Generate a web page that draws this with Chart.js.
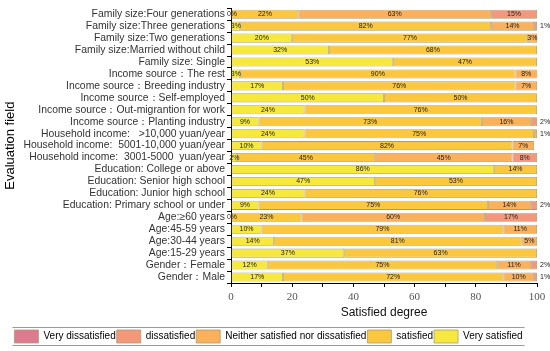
<!DOCTYPE html>
<html>
<head>
<meta charset="utf-8">
<script src="https://cdn.jsdelivr.net/npm/chart.js@4/dist/chart.umd.min.js"></script>
<style>
html,body{margin:0;padding:0;background:#fff;}
#wrap{width:550px;height:351px;}
</style>
</head>
<body>
<div id="wrap"><canvas id="c" width="550" height="351"></canvas></div>
<script>
const categories = [
  "Family size:Four generations",
  "Family size:Three generations",
  "Family size:Two generations",
  "Family size:Married without child",
  "Family size: Single",
  "Income source：The rest",
  "Income source：Breeding industry",
  "Income source：Self-employed",
  "Income source：Out-migrantion for work",
  "Income source：Planting industry",
  "Household income:   >10,000 yuan/year",
  "Household income:  5001-10,000 yuan/year",
  "Household income:  3001-5000  yuan/year",
  "Education: College or above",
  "Education: Senior high school",
  "Education: Junior high school",
  "Education: Primary school or under",
  "Age:≥60 years",
  "Age:45-59 years",
  "Age:30-44 years",
  "Age:15-29 years",
  "Gender：Female",
  "Gender：Male"
];
const verySatisfied   = [0, 3, 20, 32, 53, 3, 17, 50, 24, 9, 24, 10, 2, 86, 47, 24, 9, 0, 10, 14, 37, 12, 17];
const satisfied       = [22, 82, 77, 68, 47, 90, 76, 50, 76, 73, 75, 82, 45, 14, 53, 76, 75, 23, 79, 81, 63, 75, 72];
const neither         = [63, 14, 3, 0, 0, 8, 7, 0, 0, 16, 1, 7, 45, 0, 0, 0, 14, 60, 11, 5, 0, 11, 10];
const dissatisfied    = [15, 1, 0, 0, 0, 0, 0, 0, 0, 2, 0, 0, 8, 0, 0, 0, 2, 17, 0, 0, 0, 2, 1];
const veryDissatisfied= [0, 0, 0, 0, 0, 0, 0, 0, 0, 0, 0, 0, 0, 0, 0, 0, 0, 0, 0, 0, 0, 0, 0];
const xTicks = [0, 20, 40, 60, 80, 100];

const series = [
  {label: "Very satisfied", data: verySatisfied, color: "#f6e83c"},
  {label: "satisfied", data: satisfied, color: "#fbc73f"},
  {label: "Neither satisfied nor dissatisfied", data: neither, color: "#fbb15b"},
  {label: "dissatisfied", data: dissatisfied, color: "#f4987b"},
  {label: "Very dissatisfied", data: veryDissatisfied, color: "#dd7a90"}
];

const labelPlugin = {
  id: 'segLabels',
  afterDatasetsDraw(chart) {
    const ctx = chart.ctx;
    ctx.save();
    ctx.font = '7px "Liberation Sans", Arial, sans-serif';
    ctx.fillStyle = '#222';
    ctx.textBaseline = 'middle';
    const n = chart.data.labels.length;
    for (let j = 0; j < n; j++) {
      let last = -1;
      chart.data.datasets.forEach((ds, i) => { if (ds.data[j] > 0) last = i; });
      chart.data.datasets.forEach((ds, i) => {
        const v = ds.data[j];
        const el = chart.getDatasetMeta(i).data[j];
        const p = el.getProps(['x', 'y', 'base'], true);
        const txt = v + '%';
        if (v === 0) {
          if (i === 0) { ctx.textAlign = 'center'; ctx.fillText(txt, p.base + 1, p.y); }
          return;
        }
        if (i === last && v <= 2 && i > 0) {
          ctx.textAlign = 'left';
          ctx.fillText(txt, chart.chartArea.right + 3, p.y);
          return;
        }
        ctx.textAlign = 'center';
        ctx.fillText(txt, (Math.min(p.x, chart.chartArea.right) + p.base) / 2, p.y);
      });
    }
    ctx.restore();
  }
};

const legendFrame = {
  id: 'legendFrame',
  afterInit(chart) {
    const lg = chart.legend;
    if (!lg) return;
    const fit = lg.fit.bind(lg);
    lg.fit = function () { fit(); this.height = 18; this.bottom = this.top + 18; };
  },
  afterDraw(chart) {
    const lg = chart.legend;
    if (!lg || !lg.legendHitBoxes || !lg.legendHitBoxes.length) return;
    const hb = lg.legendHitBoxes;
    let l = Infinity, r = -Infinity, t = Infinity, b = -Infinity;
    hb.forEach(h => { l = Math.min(l, h.left); r = Math.max(r, h.left + h.width); t = Math.min(t, h.top); b = Math.max(b, h.top + h.height); });
    const ctx = chart.ctx;
    ctx.save();
    ctx.strokeStyle = '#9a9a9a';
    ctx.lineWidth = 1;
    ctx.beginPath();
    ctx.moveTo(l - 2, Math.round(t) - 2.5); ctx.lineTo(r + 2, Math.round(t) - 2.5);
    ctx.moveTo(l - 2, Math.round(b) + 2.5); ctx.lineTo(r + 2, Math.round(b) + 2.5);
    ctx.stroke();
    ctx.restore();
  }
};

new Chart(document.getElementById('c'), {
  type: 'bar',
  data: {
    labels: categories,
    datasets: series.map(s => ({
      label: s.label,
      data: s.data,
      backgroundColor: s.color,
      borderColor: '#a99c70',
      borderWidth: 0.8,
      borderSkipped: false,
      barPercentage: 0.76,
      categoryPercentage: 1.0
    }))
  },
  options: {
    indexAxis: 'y',
    responsive: false,
    animation: false,
    layout: {padding: {top: 3, right: 13, bottom: 4, left: 0}},
    plugins: {
      legend: {
        position: 'bottom',
        reverse: true,
        labels: {
          boxWidth: 24, boxHeight: 13, padding: 1,
          color: '#000',
          font: {family: '"Liberation Sans", Arial, sans-serif', size: 10}
        }
      },
      tooltip: {enabled: false}
    },
    scales: {
      x: {
        stacked: true,
        min: 0, max: 100,
        ticks: {
          stepSize: 10,
          autoSkip: false,
          color: '#555',
          font: {family: '"Liberation Serif", "Times New Roman", serif', size: 11},
          padding: 4,
          callback: (v) => xTicks.includes(v) ? String(v) : ''
        },
        grid: {drawOnChartArea: false, color: '#000', tickLength: 4},
        border: {color: '#000', width: 1},
        title: {display: true, text: 'Satisfied degree', color: '#111',
                font: {family: '"Liberation Sans", Arial, sans-serif', size: 12}, padding: {top: 2, bottom: 9}},
        afterFit: (s) => { s.height = 46; }
      },
      y: {
        stacked: true,
        ticks: {
          autoSkip: false,
          color: '#333',
          padding: 2,
          font: {family: '"Liberation Sans", Arial, sans-serif', size: 10.4}
        },
        grid: {drawOnChartArea: false, color: '#000', tickLength: 4},
        border: {color: '#000', width: 1},
        title: {display: true, text: 'Evaluation field', color: '#000',
                font: {family: '"Liberation Sans", Arial, sans-serif', size: 13}, padding: {top: 3, bottom: 2}},
        afterFit: (s) => { s.width = 231; }
      }
    }
  },
  plugins: [labelPlugin, legendFrame]
});
</script>
</body>
</html>
